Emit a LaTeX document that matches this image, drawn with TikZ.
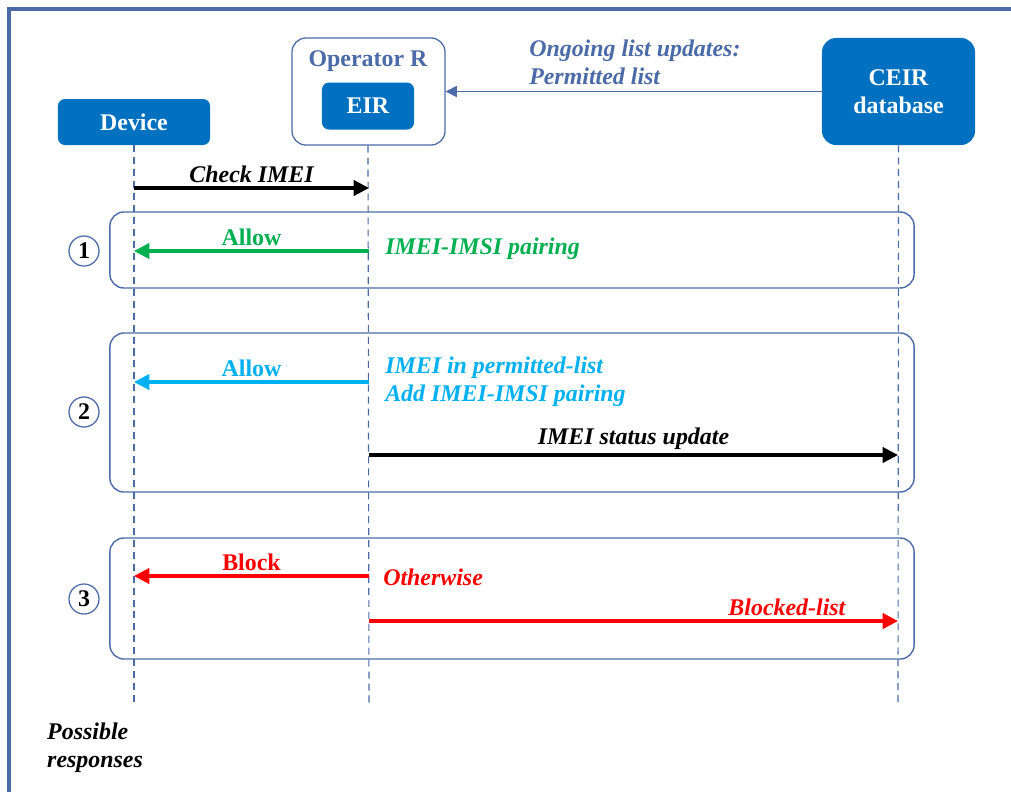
\documentclass[tikz,border=0pt]{standalone}
\usepackage{fontspec}
\setmainfont{Liberation Serif}
\usetikzlibrary{positioning}
\usetikzlibrary{arrows.meta}
\definecolor{boxblue}{HTML}{0070C0}
\definecolor{edgeblue}{HTML}{4A6BA8}
\definecolor{okgreen}{HTML}{00B050}
\definecolor{okcyan}{HTML}{00B0F0}
\definecolor{nored}{HTML}{FF0000}

\begin{document}
\begin{tikzpicture}[x=0.025cm,y=-0.025cm,
        entity/.style={rectangle,rounded corners=5pt,fill=boxblue,text=white,font=\bfseries,align=center},
        holder/.style={rectangle,rounded corners=10pt,draw=edgeblue,line width=0.9pt,fill=white},
        group/.style={rectangle,rounded corners=10pt,draw=edgeblue,line width=1pt,minimum width=20.1cm},
        num/.style={circle,draw=edgeblue,line width=0.9pt,minimum size=0.75cm,inner sep=0pt,font=\bfseries},
        note/.style={anchor=west,font=\bfseries\itshape,align=left},
        lifeline/.style={edgeblue,line width=0.8pt,dash pattern=on 5pt off 3.5pt},
        arr/.style={line width=2.2pt,-{Triangle[length=11pt,width=11pt]}},
        feed/.style={edgeblue,line width=0.9pt,-{Triangle[length=8pt,width=8pt]}}
        ]
        \fontsize{17}{20}\selectfont
        \useasboundingbox (0,0) rectangle (1011,792);
        \draw[edgeblue,line width=2.6pt] (9,792) -- (9,9) -- (1011,9);
        % actors
        \node (device) [entity,minimum width=3.8cm,minimum height=1.15cm] at (134,122) {Device};
        \node (opr) [holder,minimum width=3.825cm,minimum height=2.675cm] at (368.5,91.5) {};
        \node (oprlbl) [text=edgeblue,font=\bfseries] at (368,61) {Operator R};
        \node (eir) [entity,minimum width=2.3cm,minimum height=1.175cm] at (368,106) {EIR};
        \node (ceir) [entity,rounded corners=10pt,minimum width=3.825cm,minimum height=2.675cm] at (898.5,91.5) {CEIR\\[0pt]database};
        \coordinate (devend) at (134,705);
        \coordinate (eirend) at (369,705);
        \coordinate (ceirend) at (898,705);
        \draw[lifeline] (device.south) -- (devend);
        \draw[lifeline] (eir.center |- opr.south) -- (eirend);
        \draw[lifeline] (ceir.south) -- (ceirend);
        \draw[feed] (ceir.west) -- (opr.east);
        \node (upd) [note,text=edgeblue] at (521,62.5) {Ongoing list updates:\\Permitted list};
        % request
        \draw[arr] (devend |- 0,188) -- node[above=-3pt,font=\bfseries\itshape] {Check IMEI} (eirend |- 0,188);
        % groups
        \node (g1) [group,minimum height=1.9cm] at (512,250) {};
        \node (g2) [group,minimum height=3.975cm] at (512,412.5) {};
        \node (g3) [group,minimum height=3.025cm] at (512,598.5) {};
        \node (n1) [num] at (84,251) {1};
        \node (n2) [num] at (84,412) {2};
        \node (n3) [num] at (84,599) {3};
        % response 1
        \draw[arr,okgreen] (eirend |- 0,251) -- node[above=-3pt,font=\bfseries] {Allow} (devend |- 0,251);
        \node (r1) [note,text=okgreen] at (377,249) {IMEI-IMSI pairing};
        % response 2
        \draw[arr,okcyan] (eirend |- 0,382) -- node[above=-3pt,font=\bfseries] {Allow} (devend |- 0,382);
        \node (r2) [note,text=okcyan] at (377,381.5) {IMEI in permitted-list\\Add IMEI-IMSI pairing};
        \draw[arr] (eirend |- 0,455) -- node[above=-3pt,font=\bfseries\itshape] {IMEI status update} (ceirend |- 0,455);
        % response 3
        \draw[arr,nored] (eirend |- 0,576) -- node[above=-3pt,font=\bfseries] {Block} (devend |- 0,576);
        \node (r3) [note,text=nored] at (375,577) {Otherwise};
        \draw[arr,nored] (eirend |- 0,621) -- node[pos=0.79,above=-3pt,font=\bfseries\itshape] {Blocked-list} (ceirend |- 0,621);
        \node (poss) [note] at (39,748) {Possible\\responses};
    \end{tikzpicture}
\end{document}
